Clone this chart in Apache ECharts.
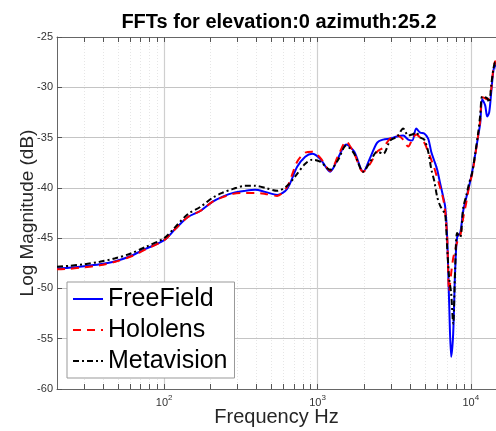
<!DOCTYPE html>
<html>
<head>
<meta charset="utf-8">
<script src="https://cdn.jsdelivr.net/npm/echarts@6/dist/echarts.min.js"></script>
<style>
  html, body { margin: 0; padding: 0; background: #fff; }
  #chart { width: 496px; height: 431px; }
</style>
</head>
<body>
<div id="chart"></div>
<script>
// Frequency bins (Hz) shared by the three measured responses
const freqHz = [20, 24, 30, 38, 48, 60, 75, 100, 118, 143, 172, 206, 239, 282, 337, 392, 456, 546, 634, 737,
  832, 923, 1041, 1210, 1365, 1539, 1735, 1987, 2207, 2452, 2683, 2980, 3311, 3622, 3905, 4147, 4404, 4677,
  4966, 5273, 5518, 5773, 6037, 6318, 6607, 6808, 7015, 7228, 7447, 7674, 7907, 8147, 8524, 8920, 9333,
  9763, 10210, 10680, 11180, 11515, 11870, 12410, 12790, 13180, 13590, 14000, 14430, 14860];

// Log magnitude (dB) per bin
const freeField = [-48.0, -47.95, -47.8, -47.6, -47.3, -46.8, -46.1, -45.2, -44.1, -42.9, -42.3, -41.4, -40.9,
  -40.5, -40.3, -40.2, -40.4, -40.7, -40.1, -37.9, -36.9, -36.6, -37.1, -38.4, -37.0, -35.7, -36.4, -38.4,
  -37.0, -35.5, -35.2, -35.1, -34.9, -34.8, -35.2, -35.3, -34.1, -34.5, -34.6, -35.1, -36.4, -37.3, -38.2,
  -39.6, -40.9, -41.9, -45.0, -51.5, -56.8, -54.5, -48.2, -44.9, -44.5, -42.3, -41.0, -39.8, -38.4, -36.7,
  -34.8, -33.6, -31.2, -31.8, -32.9, -32.5, -30.5, -28.5, -27.6, -28.4];

const hololens = [-48.1, -48.05, -47.9, -47.7, -47.35, -46.85, -46.15, -45.2, -44.1, -42.9, -42.3, -41.4, -40.95,
  -40.6, -40.5, -40.5, -40.6, -40.8, -39.9, -37.4, -36.5, -36.4, -37.0, -38.3, -36.8, -35.4, -36.6, -38.4,
  -37.6, -36.4, -36.0, -35.1, -34.8, -35.2, -35.9, -35.2, -34.7, -35.0, -35.5, -36.4, -37.2, -38.0, -39.0,
  -40.0, -41.1, -42.4, -45.0, -50.3, -48.5, -47.0, -46.2, -45.4, -44.8, -43.0, -41.5, -39.8, -38.6, -36.8,
  -34.7, -33.3, -31.0, -31.1, -31.2, -31.0, -30.2, -28.3, -27.4, -28.0];

const metavision = [-47.85, -47.75, -47.6, -47.35, -47.0, -46.55, -45.9, -45.0, -43.9, -42.6, -41.9, -41.0, -40.5,
  -40.1, -39.8, -39.8, -40.0, -40.3, -39.8, -38.6, -37.6, -37.2, -37.4, -38.2, -37.2, -35.8, -36.6, -38.4,
  -37.4, -36.4, -36.6, -35.3, -34.9, -34.1, -34.8, -34.7, -34.5, -35.0, -35.2, -36.4, -38.1, -39.3, -40.9,
  -41.8, -42.3, -42.6, -46.0, -49.0, -50.5, -53.5, -48.0, -44.5, -44.9, -42.0, -40.8, -39.5, -38.5, -36.6,
  -34.5, -32.8, -30.9, -31.0, -31.1, -31.5, -29.8, -28.3, -27.5, -28.0];

// Decade and in-between gridline positions on the log frequency axis
const majorFreqs = [100, 1000, 10000];
const minorFreqs = [30, 40, 50, 60, 70, 80, 90, 200, 300, 400, 500, 600, 700, 800, 900,
  2000, 3000, 4000, 5000, 6000, 7000, 8000, 9000];

// Visible frequency window (Hz) and magnitude window (dB)
const freqRange = [20, 14600];
const dbRange = [-60, -25];

const seriesNames = ['FreeField', 'Hololens', 'Metavision'];
const titleText = 'FFTs for elevation:0 azimuth:25.2';

const FONT = '"Liberation Sans", Arial, Helvetica, sans-serif';
const zip = (xs, ys) => xs.map((x, i) => [x, ys[i]]);

const chart = echarts.init(document.getElementById('chart'), null, { renderer: 'canvas' });

// Vertical gridlines plus inward ticks on the bottom and top edges
function renderFreqGrid(params, api) {
  const freq = api.value(0);
  const major = api.value(1) === 1;
  const cs = params.coordSys;
  const x = Math.round(api.coord([freq, dbRange[0]])[0]) + 0.5;
  const top = cs.y, bottom = cs.y + cs.height;
  const tickLen = 5;
  return {
    type: 'group',
    children: [
      {
        type: 'line',
        shape: { x1: x, y1: top, x2: x, y2: bottom },
        style: major
          ? { stroke: '#cfcfcf', lineWidth: 1.2 }
          : { stroke: '#e6e6e6', lineWidth: 1, lineDash: [1, 2] }
      },
      { type: 'line', shape: { x1: x, y1: bottom, x2: x, y2: bottom - tickLen },
        style: { stroke: '#555', lineWidth: 1 } },
      { type: 'line', shape: { x1: x, y1: top, x2: x, y2: top + tickLen },
        style: { stroke: '#555', lineWidth: 1 } }
    ]
  };
}

const gridData = majorFreqs.map(f => [f, 1]).concat(minorFreqs.map(f => [f, 0]));

const frameLine = { show: true, lineStyle: { color: '#666', width: 1 } };

chart.setOption({
  animation: false,
  backgroundColor: '#fff',
  textStyle: { fontFamily: FONT },
  graphic: [{
    type: 'text',
    x: 279, y: 22,
    style: {
      text: titleText,
      font: 'bold 20px ' + FONT,
      fill: '#000',
      textAlign: 'center',
      textVerticalAlign: 'middle'
    },
    z: 10
  }],
  grid: {
    left: 57, top: 37, right: 0, bottom: 42,
    outerBoundsMode: 'none',
    containLabel: false,
    show: true, borderWidth: 0, backgroundColor: '#fff'
  },
  legend: {
    orient: 'vertical',
    left: 67, top: 282,
    itemWidth: 30, itemHeight: 14, itemGap: 1,
    padding: [2, 7, 2, 5],
    backgroundColor: '#fff',
    borderColor: '#999', borderWidth: 1,
    itemStyle: { opacity: 0 },
    textStyle: { fontSize: 25, color: '#000', fontFamily: FONT, lineHeight: 30 },
    data: seriesNames,
    z: 20
  },
  xAxis: [{
    type: 'log', logBase: 10,
    min: freqRange[0], max: freqRange[1],
    name: 'Frequency Hz',
    nameLocation: 'middle', nameGap: 18, nameMoveOverlap: false,
    nameTextStyle: { fontSize: 20, color: '#262626', fontFamily: FONT },
    axisLine: frameLine,
    axisTick: { show: false },
    splitLine: { show: false },
    axisLabel: {
      margin: 5,
      color: '#333',
      formatter: function (v) {
        const e = Math.log10(v);
        if (Math.abs(e - Math.round(e)) > 1e-6) return '';
        return '{b|10}{s|' + Math.round(e) + '}';
      },
      rich: {
        b: { fontSize: 11, fontFamily: FONT, color: '#333' },
        s: { fontSize: 8, fontFamily: FONT, color: '#333', padding: [0, 0, 9, 0] }
      }
    }
  }, {
    // top edge of the frame
    type: 'log', logBase: 10, position: 'top',
    min: freqRange[0], max: freqRange[1],
    axisLine: frameLine,
    axisTick: { show: false },
    axisLabel: { show: false },
    splitLine: { show: false }
  }],
  yAxis: {
    type: 'value',
    min: dbRange[0], max: dbRange[1], interval: 5,
    name: 'Log Magnitude (dB)',
    nameLocation: 'middle', nameGap: 20, nameMoveOverlap: false,
    nameTextStyle: { fontSize: 19, color: '#262626', fontFamily: FONT },
    axisLine: frameLine,
    axisTick: { show: true, inside: true, length: 5, lineStyle: { color: '#555' } },
    splitLine: { show: true, lineStyle: { color: '#c4c4c4', width: 1 } },
    axisLabel: { fontSize: 11, color: '#333', margin: 4, fontFamily: FONT }
  },
  series: [
    {
      type: 'custom',
      silent: true,
      renderItem: renderFreqGrid,
      data: gridData,
      encode: { x: 0 },
      z: 1,
      clip: true
    },
    {
      name: seriesNames[0], type: 'line', data: zip(freqHz, freeField),
      showSymbol: false, symbol: 'none', smooth: 0.3,
      lineStyle: { color: '#0000ff', width: 2 }, itemStyle: { color: '#0000ff' }, z: 3
    },
    {
      name: seriesNames[1], type: 'line', data: zip(freqHz, hololens),
      showSymbol: false, symbol: 'none', smooth: 0.3,
      lineStyle: { color: '#ff0000', width: 2, type: [8, 6] }, itemStyle: { color: '#ff0000' }, z: 4
    },
    {
      name: seriesNames[2], type: 'line', data: zip(freqHz, metavision),
      showSymbol: false, symbol: 'none', smooth: 0.3,
      lineStyle: { color: '#000000', width: 2, type: [6, 3, 2, 3] }, itemStyle: { color: '#000' }, z: 5
    }
  ]
});
</script>
</body>
</html>
